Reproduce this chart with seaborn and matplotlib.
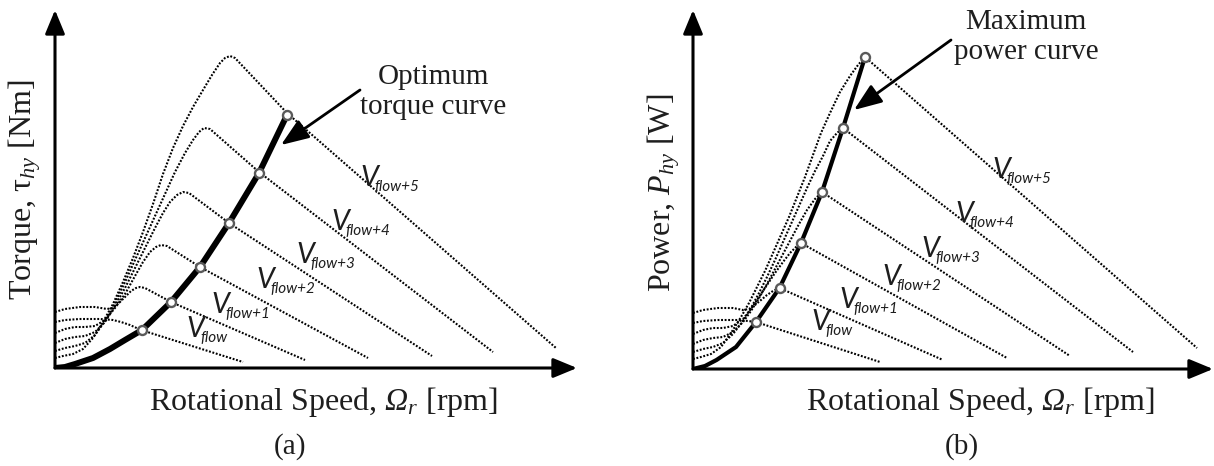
import numpy as np
import pandas as pd
import seaborn as sns
import matplotlib.pyplot as plt

# ------------------------------- setting start ------------------------------ #
sns.set_theme(style="white")
plt.rcParams['font.family'] = ['Liberation Serif', 'DejaVu Serif']
plt.rcParams['mathtext.fontset'] = 'custom'
plt.rcParams['mathtext.rm'] = 'Liberation Serif'
plt.rcParams['mathtext.it'] = 'Liberation Serif:italic'
plt.rcParams['mathtext.bf'] = 'Liberation Serif:italic'   # italic Omega

dot_style = (0, (0.9, 0.8))
dot_lw = 1.5
ink = "black"
txt = "#1e1e1e"
marker_edge = "#5a5a5a"
# -------------------------------- setting end ------------------------------- #

flow_subs = ["flow", "flow+1", "flow+2", "flow+3", "flow+4", "flow+5"]

# (a) torque vs speed, one list per flow (schematic units)
torque_speed = [
    [0, 10, 25, 45, 58, 66, 75, 86, 188],
    [0, 10, 25, 40, 52, 58, 64, 70, 76, 81, 85, 90, 116, 250],
    [0, 10, 20, 30, 40, 50, 60, 70, 80, 88, 95, 101, 106, 112, 145, 313],
    [0, 10, 20, 30, 40, 50, 60, 70, 80, 90, 100, 108, 115, 122, 128, 134, 174, 377],
    [0, 10, 20, 30, 40, 50, 60, 70, 80, 90, 100, 110, 120, 130, 138, 144, 149, 155, 204, 438],
    [0, 8, 18, 28, 38, 48, 58, 68, 78, 88, 98, 108, 118, 128, 138, 148, 157, 165, 170, 175,
     180, 232, 501],
]
torque_vals = [
    [46, 48, 49, 49, 48, 46, 43, 38, 6],
    [56, 59, 61, 61, 59, 60, 65, 71, 77, 80, 81, 80, 66, 8],
    [35, 39, 41, 41, 42, 48, 60, 74, 92, 106, 116, 121, 123, 122, 101, 10],
    [25, 29, 31, 32, 36, 46, 62, 80, 100, 120, 140, 155, 166, 173, 176, 175, 145, 12],
    [17, 20, 22, 25, 33, 47, 65, 86, 108, 130, 152, 174, 196, 215, 228, 236, 240, 239, 196, 16],
    [10, 12, 14, 19, 30, 46, 64, 86, 110, 136, 164, 194, 220, 242, 261, 278, 293, 305, 310, 312,
     310, 255, 20],
]
opt_torque_speed = [0, 10, 20, 38, 55, 70, 87, 116, 145, 174, 204, 232]
opt_torque_vals = [0, 1, 4, 10, 19, 28, 38, 66, 101, 145, 195, 253]

# (b) power vs speed
power_speed = [
    [0, 10, 25, 45, 55, 63, 187],
    [0, 10, 25, 40, 50, 56, 62, 68, 74, 80, 86.5, 250],
    [0, 10, 20, 30, 40, 50, 58, 66, 74, 82, 90, 97, 103, 108, 314],
    [0, 10, 20, 30, 40, 50, 58, 66, 74, 82, 90, 98, 106, 114, 122, 129, 377],
    [0, 10, 20, 30, 40, 50, 58, 66, 74, 82, 90, 98, 106, 114, 122, 130, 137, 144, 150, 440],
    [0, 8, 18, 28, 38, 48, 56, 64, 72, 80, 88, 96, 104, 112, 120, 128, 137, 147, 157, 165,
     172, 504],
]
power_vals = [
    [46, 48, 49, 49, 48, 47, 7],
    [56, 59, 61, 61, 59, 60, 64, 69, 74, 78, 81, 9],
    [35, 39, 41, 41, 43, 50, 60, 72, 84, 96, 107, 116, 122, 126, 11],
    [25, 29, 31, 32, 37, 47, 58, 71, 85, 100, 115, 130, 145, 159, 170, 177, 13],
    [17, 20, 22, 26, 35, 48, 61, 76, 92, 109, 127, 145, 163, 181, 198, 213, 228, 236, 241, 17],
    [10, 12, 15, 22, 36, 52, 66, 82, 98, 116, 134, 152, 172, 192, 214, 236, 256, 277, 293, 304,
     312, 21],
]
max_power_speed = [0, 12, 23.5, 43, 63, 86.5, 108, 129, 150, 172]
max_power_vals = [0, 3, 9, 22, 47, 81, 126, 177, 241, 312]

# label anchors (left edge of V, baseline)
torque_lab_x = [131, 156, 201, 241, 276, 305]
torque_lab_y = [31, 55, 80, 105, 138, 182]
power_lab_x = [118, 146, 189, 228, 262, 299]
power_lab_y = [39, 61, 84, 112, 147, 191]

W, H = 1214, 466
fig = plt.figure(figsize=(W / 100, H / 100), dpi=100)
ax_a = fig.add_axes([55 / W, (H - 368) / H, 522 / W, 358 / H])
ax_b = fig.add_axes([693 / W, (H - 369) / H, 520 / W, 359 / H])
ax_a.set(xlim=(0, 522), ylim=(0, 358))
ax_b.set(xlim=(0, 520), ylim=(0, 359))


def draw_axes(ax):
    ax.axis("off")
    arrow = dict(arrowstyle="-|>,head_length=1.45,head_width=0.6", lw=2.2,
                 color=ink, mutation_scale=10, shrinkA=0, shrinkB=0)
    ax.annotate("", xy=(1, 0), xytext=(0, 0), xycoords="axes fraction",
                arrowprops=arrow, annotation_clip=False)
    ax.annotate("", xy=(0, 1), xytext=(0, 0), xycoords="axes fraction",
                arrowprops=arrow, annotation_clip=False)


def flow_label(ax, x, y, sub):
    ax.text(x, y, "V", fontsize=20.5, family="Lato", style="italic", ha="left",
            va="baseline", color=txt)
    ax.annotate(sub, xy=(x, y), xytext=(10.5, -3.8), textcoords="offset points",
                fontsize=11, family="Lato", style="italic", ha="left",
                va="baseline", color=txt)


def draw_panel(ax, xs_list, ys_list, thick_x, thick_y, lw_thick, lab_x, lab_y):
    for xs, ys in zip(xs_list, ys_list):
        sns.lineplot(x=xs, y=ys, ax=ax, color=ink, lw=dot_lw, linestyle=dot_style,
                     estimator=None, sort=False, legend=False)
    sns.lineplot(x=thick_x, y=thick_y, ax=ax, color=ink, lw=lw_thick,
                 estimator=None, sort=False, legend=False,
                 solid_joinstyle="round", solid_capstyle="round")
    for sub, x, y in zip(flow_subs, lab_x, lab_y):
        flow_label(ax, x, y, sub)


draw_axes(ax_a)
draw_axes(ax_b)

draw_panel(ax_a, torque_speed, torque_vals, opt_torque_speed, opt_torque_vals, 4.3,
           torque_lab_x, torque_lab_y)
# markers where the optimum curve meets each flow curve
sns.scatterplot(x=opt_torque_speed[6:], y=opt_torque_vals[6:], ax=ax_a, s=42,
                facecolor="white", edgecolor=marker_edge, linewidth=1.7, zorder=5,
                legend=False)

draw_panel(ax_b, power_speed, power_vals, max_power_speed, max_power_vals, 3.0,
           power_lab_x, power_lab_y)
sns.scatterplot(x=max_power_speed[4:], y=max_power_vals[4:], ax=ax_b, s=42,
                facecolor="white", edgecolor=marker_edge, linewidth=1.7, zorder=5,
                legend=False)

# callouts
callout = dict(arrowstyle="-|>,head_length=1.7,head_width=0.65", lw=2.0, color=ink,
               mutation_scale=10, shrinkA=0, shrinkB=0)
ax_a.annotate("", xy=(226, 223), xytext=(305, 278), arrowprops=callout)
ax_a.text(378, 276, "Optimum\ntorque curve", fontsize=21, ha="center", va="center",
          linespacing=1.15, color=txt)
ax_b.annotate("", xy=(161, 259), xytext=(258, 329), arrowprops=callout)
ax_b.text(333, 332, "Maximum\npower curve", fontsize=21, ha="center", va="center",
          linespacing=1.22, color=txt)

# axis titles
fig.text(323 / W, 1 - 410 / H, r"Rotational Speed, $\mathbf{\Omega}_r$ [rpm]",
         fontsize=23, ha="center", va="baseline", color=txt)
fig.text(980 / W, 1 - 410 / H, r"Rotational Speed, $\mathbf{\Omega}_r$ [rpm]",
         fontsize=23, ha="center", va="baseline", color=txt)
fig.text(25 / W, 1 - 190 / H, r"Torque, $\mathrm{\tau}_{hy}$ [Nm]", rotation=90,
         fontsize=23, ha="center", va="center", color=txt)
fig.text(664 / W, 1 - 193 / H, r"Power, $P_{hy}$ [W]", rotation=90,
         fontsize=23, ha="center", va="center", color=txt)
fig.text(290 / W, 1 - 447 / H, "(a)", fontsize=21, ha="center", va="center", color=txt)
fig.text(962 / W, 1 - 447 / H, "(b)", fontsize=21, ha="center", va="center", color=txt)

plt.savefig("out.png", dpi=100)
